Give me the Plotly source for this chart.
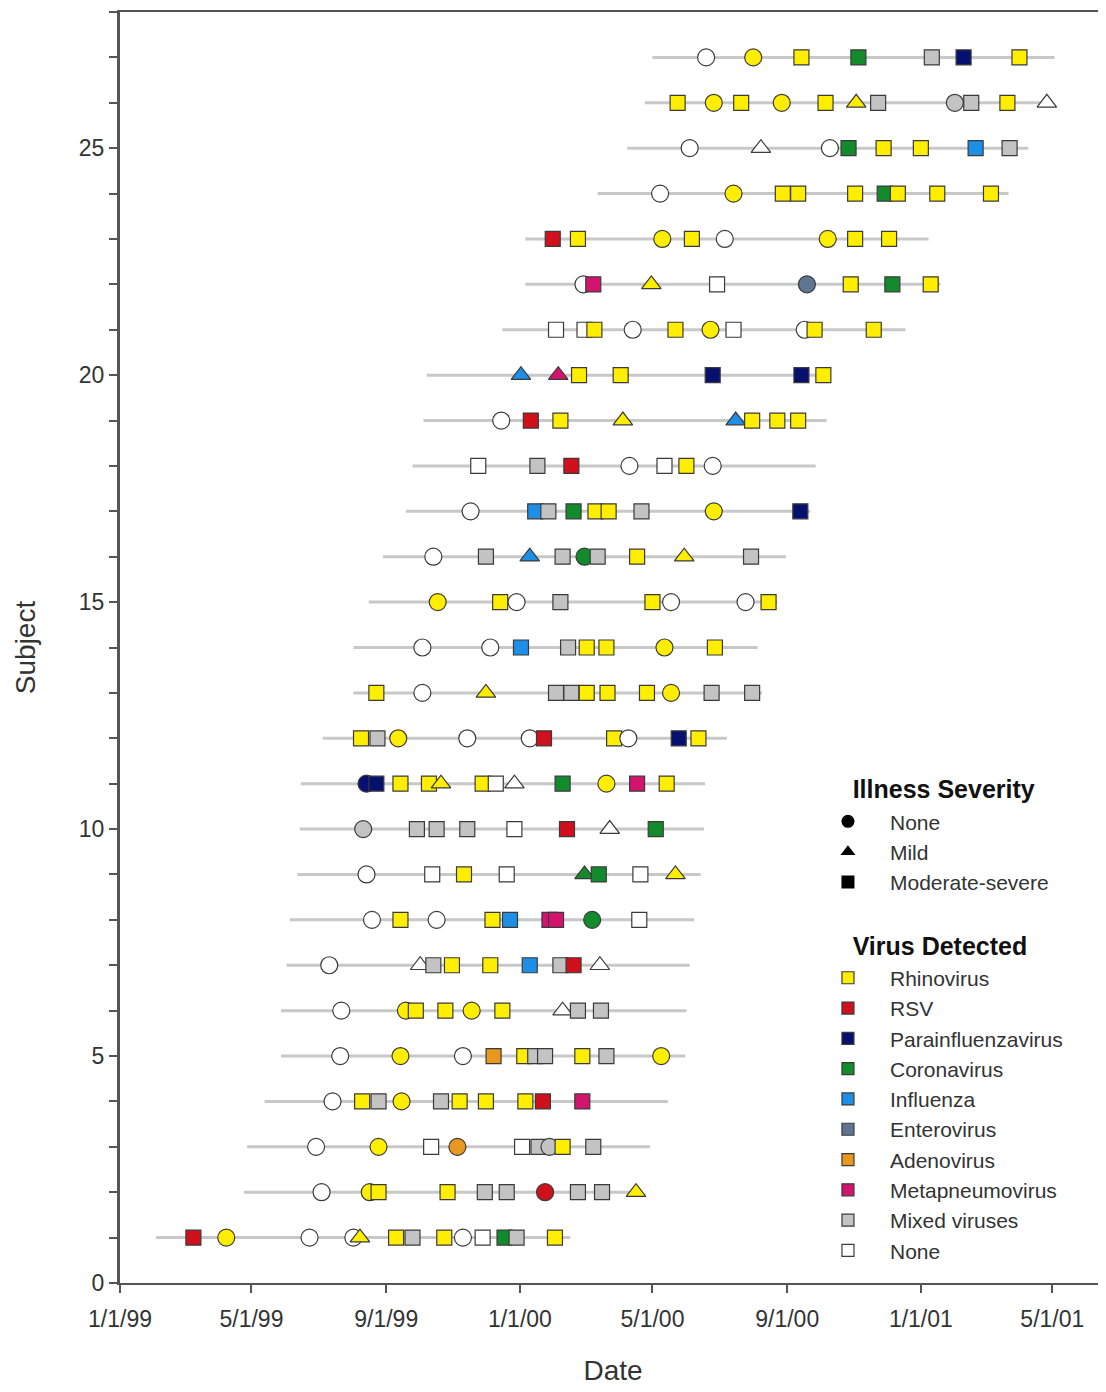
import plotly.graph_objects as go

# virus categories and their colours
virus_keys = ["RV", "RSV", "PIV", "CoV", "Flu", "EV", "AdV", "MPV", "MIX", "NEG"]
virus_names = ["Rhinovirus", "RSV", "Parainfluenzavirus", "Coronavirus", "Influenza",
               "Enterovirus", "Adenovirus", "Metapneumovirus", "Mixed viruses", "None"]
virus_colors = ["#FFEE00", "#D0101C", "#06106E", "#138A2C", "#1E8FE6",
                "#5F7592", "#E8981E", "#D3146F", "#C3C3C3", "#FFFFFF"]

# illness severity -> marker symbol
severity_keys = ["N", "M", "S"]
severity_names = ["None", "Mild", "Moderate-severe"]
severity_symbols = ["circle", "triangle-up", "square"]
severity_sizes = [17, 17, 15]

# follow-up period of each subject (subject 1 .. 27)
follow_start = ["1999-02-03", "1999-04-24", "1999-04-27", "1999-05-13", "1999-05-28",
                "1999-05-28", "1999-06-02", "1999-06-05", "1999-06-12", "1999-06-14",
                "1999-06-15", "1999-07-05", "1999-08-02", "1999-08-02", "1999-08-16",
                "1999-08-29", "1999-09-19", "1999-09-25", "1999-10-05", "1999-10-08",
                "1999-12-16", "2000-01-06", "2000-01-06", "2000-03-12", "2000-04-08",
                "2000-04-24", "2000-05-01"]
follow_end = ["2000-02-16", "2000-04-20", "2000-04-29", "2000-05-15", "2000-05-31",
              "2000-06-01", "2000-06-04", "2000-06-08", "2000-06-14", "2000-06-17",
              "2000-06-18", "2000-07-08", "2000-08-09", "2000-08-05", "2000-08-23",
              "2000-08-31", "2000-09-22", "2000-09-27", "2000-10-07", "2000-10-10",
              "2000-12-18", "2001-01-19", "2001-01-08", "2001-03-22", "2001-04-09",
              "2001-04-26", "2001-05-03"]

# sampling events per subject: (date, severity, virus)
s01 = [("1999-03-09", "S", "RSV"), ("1999-04-08", "N", "RV"), ("1999-06-23", "N", "NEG"),
       ("1999-08-02", "N", "NEG"), ("1999-08-08", "M", "RV"), ("1999-09-10", "S", "RV"),
       ("1999-09-25", "S", "MIX"), ("1999-10-24", "S", "RV"), ("1999-11-10", "N", "NEG"),
       ("1999-11-28", "S", "NEG"), ("1999-12-18", "S", "CoV"), ("1999-12-29", "S", "MIX"),
       ("2000-02-02", "S", "RV")]
s02 = [("1999-07-04", "N", "NEG"), ("1999-08-17", "N", "RV"), ("1999-08-25", "S", "RV"),
       ("1999-10-27", "S", "RV"), ("1999-11-30", "S", "MIX"), ("1999-12-20", "S", "MIX"),
       ("2000-01-24", "N", "RSV"), ("2000-02-23", "S", "MIX"), ("2000-03-16", "S", "MIX"),
       ("2000-04-16", "M", "RV")]
s03 = [("1999-06-29", "N", "NEG"), ("1999-08-25", "N", "RV"), ("1999-10-12", "S", "NEG"),
       ("1999-11-05", "N", "AdV"), ("2000-01-03", "S", "NEG"), ("2000-01-18", "S", "MIX"),
       ("2000-01-28", "N", "MIX"), ("2000-02-09", "S", "RV"), ("2000-03-08", "S", "MIX")]
s04 = [("1999-07-14", "N", "NEG"), ("1999-08-10", "S", "RV"), ("1999-08-25", "S", "MIX"),
       ("1999-09-15", "N", "RV"), ("1999-10-21", "S", "MIX"), ("1999-11-07", "S", "RV"),
       ("1999-12-01", "S", "RV"), ("2000-01-06", "S", "RV"), ("2000-01-22", "S", "RSV"),
       ("2000-02-27", "S", "MPV")]
s05 = [("1999-07-21", "N", "NEG"), ("1999-09-14", "N", "RV"), ("1999-11-10", "N", "NEG"),
       ("1999-12-08", "S", "AdV"), ("2000-01-05", "S", "RV"), ("2000-01-15", "S", "MIX"),
       ("2000-01-24", "S", "MIX"), ("2000-02-27", "S", "RV"), ("2000-03-20", "S", "MIX"),
       ("2000-05-09", "N", "RV")]
s06 = [("1999-07-22", "N", "NEG"), ("1999-09-19", "N", "RV"), ("1999-09-28", "S", "RV"),
       ("1999-10-25", "S", "RV"), ("1999-11-18", "N", "RV"), ("1999-12-16", "S", "RV"),
       ("2000-02-09", "M", "NEG"), ("2000-02-23", "S", "MIX"), ("2000-03-15", "S", "MIX")]
s07 = [("1999-07-11", "N", "NEG"), ("1999-10-02", "M", "NEG"), ("1999-10-14", "S", "MIX"),
       ("1999-10-31", "S", "RV"), ("1999-12-05", "S", "RV"), ("2000-01-10", "S", "Flu"),
       ("2000-02-07", "S", "MIX"), ("2000-02-19", "S", "RSV"), ("2000-03-14", "M", "NEG")]
s08 = [("1999-08-19", "N", "NEG"), ("1999-09-14", "S", "RV"), ("1999-10-17", "N", "NEG"),
       ("1999-12-07", "S", "RV"), ("1999-12-23", "S", "Flu"), ("2000-01-28", "S", "MPV"),
       ("2000-02-03", "S", "MPV"), ("2000-03-07", "N", "CoV"), ("2000-04-19", "S", "NEG")]
s09 = [("1999-08-14", "N", "NEG"), ("1999-10-13", "S", "NEG"), ("1999-11-11", "S", "RV"),
       ("1999-12-20", "S", "NEG"), ("2000-02-29", "M", "CoV"), ("2000-03-13", "S", "CoV"),
       ("2000-04-20", "S", "NEG"), ("2000-05-22", "M", "RV")]
s10 = [("1999-08-11", "N", "MIX"), ("1999-09-29", "S", "MIX"), ("1999-10-17", "S", "MIX"),
       ("1999-11-14", "S", "MIX"), ("1999-12-27", "S", "NEG"), ("2000-02-13", "S", "RSV"),
       ("2000-03-23", "M", "NEG"), ("2000-05-04", "S", "CoV")]
s11 = [("1999-08-14", "N", "PIV"), ("1999-08-23", "S", "PIV"), ("1999-09-14", "S", "RV"),
       ("1999-10-10", "S", "RV"), ("1999-10-21", "M", "RV"), ("1999-11-28", "S", "RV"),
       ("1999-12-10", "S", "NEG"), ("1999-12-27", "M", "NEG"), ("2000-02-09", "S", "CoV"),
       ("2000-03-20", "N", "RV"), ("2000-04-17", "S", "MPV"), ("2000-05-14", "S", "RV")]
s12 = [("1999-08-09", "S", "RV"), ("1999-08-24", "S", "MIX"), ("1999-09-12", "N", "RV"),
       ("1999-11-14", "N", "NEG"), ("2000-01-10", "N", "NEG"), ("2000-01-23", "S", "RSV"),
       ("2000-03-27", "S", "RV"), ("2000-04-09", "N", "NEG"), ("2000-05-25", "S", "PIV"),
       ("2000-06-12", "S", "RV")]
s13 = [("1999-08-23", "S", "RV"), ("1999-10-04", "N", "NEG"), ("1999-12-01", "M", "RV"),
       ("2000-02-03", "S", "MIX"), ("2000-02-17", "S", "MIX"), ("2000-03-02", "S", "RV"),
       ("2000-03-21", "S", "RV"), ("2000-04-26", "S", "RV"), ("2000-05-18", "N", "RV"),
       ("2000-06-24", "S", "MIX"), ("2000-07-31", "S", "MIX")]
s14 = [("1999-10-04", "N", "NEG"), ("1999-12-05", "N", "NEG"), ("2000-01-02", "S", "Flu"),
       ("2000-02-14", "S", "MIX"), ("2000-03-02", "S", "RV"), ("2000-03-20", "S", "RV"),
       ("2000-05-12", "N", "RV"), ("2000-06-27", "S", "RV")]
s15 = [("1999-10-18", "N", "RV"), ("1999-12-14", "S", "RV"), ("1999-12-29", "N", "NEG"),
       ("2000-02-07", "S", "MIX"), ("2000-05-01", "S", "RV"), ("2000-05-18", "N", "NEG"),
       ("2000-07-25", "N", "NEG"), ("2000-08-15", "S", "RV")]
s16 = [("1999-10-14", "N", "NEG"), ("1999-12-01", "S", "MIX"), ("2000-01-10", "M", "Flu"),
       ("2000-02-09", "S", "MIX"), ("2000-02-29", "N", "CoV"), ("2000-03-12", "S", "MIX"),
       ("2000-04-17", "S", "RV"), ("2000-05-30", "M", "RV"), ("2000-07-30", "S", "MIX")]
s17 = [("1999-11-17", "N", "NEG"), ("2000-01-15", "S", "Flu"), ("2000-01-27", "S", "MIX"),
       ("2000-02-19", "S", "CoV"), ("2000-03-10", "S", "RV"), ("2000-03-22", "S", "RV"),
       ("2000-04-21", "S", "MIX"), ("2000-06-26", "N", "RV"), ("2000-09-13", "S", "PIV")]
s18 = [("1999-11-24", "S", "NEG"), ("2000-01-17", "S", "MIX"), ("2000-02-17", "S", "RSV"),
       ("2000-04-10", "N", "NEG"), ("2000-05-12", "S", "NEG"), ("2000-06-01", "S", "RV"),
       ("2000-06-25", "N", "NEG")]
s19 = [("1999-12-15", "N", "NEG"), ("2000-01-11", "S", "RSV"), ("2000-02-07", "S", "RV"),
       ("2000-04-04", "M", "RV"), ("2000-07-16", "M", "Flu"), ("2000-07-31", "S", "RV"),
       ("2000-08-23", "S", "RV"), ("2000-09-11", "S", "RV")]
s20 = [("2000-01-02", "M", "Flu"), ("2000-02-05", "M", "MPV"), ("2000-02-24", "S", "RV"),
       ("2000-04-02", "S", "RV"), ("2000-06-25", "S", "PIV"), ("2000-09-14", "S", "PIV"),
       ("2000-10-04", "S", "RV")]
s21 = [("2000-02-03", "S", "NEG"), ("2000-02-29", "S", "NEG"), ("2000-03-09", "S", "RV"),
       ("2000-04-13", "N", "NEG"), ("2000-05-22", "S", "RV"), ("2000-06-23", "N", "RV"),
       ("2000-07-14", "S", "NEG"), ("2000-09-17", "N", "NEG"), ("2000-09-26", "S", "RV"),
       ("2000-11-19", "S", "RV")]
s22 = [("2000-02-28", "N", "NEG"), ("2000-03-08", "S", "MPV"), ("2000-04-30", "M", "RV"),
       ("2000-06-29", "S", "NEG"), ("2000-09-19", "N", "EV"), ("2000-10-29", "S", "RV"),
       ("2000-12-06", "S", "CoV"), ("2001-01-10", "S", "RV")]
s23 = [("2000-01-31", "S", "RSV"), ("2000-02-23", "S", "RV"), ("2000-05-10", "N", "RV"),
       ("2000-06-06", "S", "RV"), ("2000-07-06", "N", "NEG"), ("2000-10-08", "N", "RV"),
       ("2000-11-02", "S", "RV"), ("2000-12-03", "S", "RV")]
s24 = [("2000-05-08", "N", "NEG"), ("2000-07-14", "N", "RV"), ("2000-08-28", "S", "RV"),
       ("2000-09-11", "S", "RV"), ("2000-11-02", "S", "RV"), ("2000-11-29", "S", "CoV"),
       ("2000-12-11", "S", "RV"), ("2001-01-16", "S", "RV"), ("2001-03-06", "S", "RV")]
s25 = [("2000-06-04", "N", "NEG"), ("2000-08-08", "M", "NEG"), ("2000-10-10", "N", "NEG"),
       ("2000-10-27", "S", "CoV"), ("2000-11-28", "S", "RV"), ("2001-01-01", "S", "RV"),
       ("2001-02-20", "S", "Flu"), ("2001-03-23", "S", "MIX")]
s26 = [("2000-05-24", "S", "RV"), ("2000-06-26", "N", "RV"), ("2000-07-21", "S", "RV"),
       ("2000-08-27", "N", "RV"), ("2000-10-06", "S", "RV"), ("2000-11-03", "M", "RV"),
       ("2000-11-23", "S", "MIX"), ("2001-02-01", "N", "MIX"), ("2001-02-16", "S", "MIX"),
       ("2001-03-21", "S", "RV"), ("2001-04-26", "M", "NEG")]
s27 = [("2000-06-19", "N", "NEG"), ("2000-08-01", "N", "RV"), ("2000-09-14", "S", "RV"),
       ("2000-11-05", "S", "CoV"), ("2001-01-11", "S", "MIX"), ("2001-02-09", "S", "PIV"),
       ("2001-04-01", "S", "RV")]

subjects = [s01, s02, s03, s04, s05, s06, s07, s08, s09, s10, s11, s12, s13, s14,
            s15, s16, s17, s18, s19, s20, s21, s22, s23, s24, s25, s26, s27]

tick_dates = ["1999-01-01", "1999-05-01", "1999-09-01", "2000-01-01",
              "2000-05-01", "2000-09-01", "2001-01-01", "2001-05-01"]
tick_labels = ["1/1/99", "5/1/99", "9/1/99", "1/1/00", "5/1/00", "9/1/00", "1/1/01", "5/1/01"]

FONT = "Liberation Sans, Arial, sans-serif"
OUTLINE = "#3a3a3a"
PAD = "&nbsp;" * 6

fig = go.Figure()

# grey follow-up lines
lx, ly = [], []
for i, (a, b) in enumerate(zip(follow_start, follow_end), start=1):
    lx += [a, b, None]
    ly += [i, i, None]
fig.add_trace(go.Scatter(x=lx, y=ly, mode="lines", line=dict(color="#c8c8c8", width=3),
                         showlegend=False, hoverinfo="skip"))

# sample markers
col_of = dict(zip(virus_keys, virus_colors))
sym_of = dict(zip(severity_keys, severity_symbols))
size_of = dict(zip(severity_keys, severity_sizes))
xs, ys, syms, cols, sizes = [], [], [], [], []
for i, events in enumerate(subjects, start=1):
    for d, sev, vir in events:
        xs.append(d)
        ys.append(i)
        syms.append(sym_of[sev])
        cols.append(col_of[vir])
        sizes.append(size_of[sev])
fig.add_trace(go.Scatter(x=xs, y=ys, mode="markers", showlegend=False,
                         marker=dict(symbol=syms, color=cols, size=sizes, opacity=1,
                                     line=dict(color=OUTLINE, width=1.2))))

# legend entries
for name, sym in zip(severity_names, severity_symbols):
    fig.add_trace(go.Scatter(x=[None], y=[None], mode="markers", name=name,
                             legendgroup="sev",
                             legendgrouptitle_text=PAD + "<b>Illness Severity</b>",
                             marker=dict(symbol=sym, color="black", size=13)))
for name, c in zip(virus_names, virus_colors):
    fig.add_trace(go.Scatter(x=[None], y=[None], mode="markers", name=name,
                             legendgroup="vir",
                             legendgrouptitle_text=PAD + "<b>Virus Detected</b>",
                             marker=dict(symbol="square", color=c, size=12,
                                         line=dict(color=OUTLINE, width=1.2))))

fig.update_layout(
    width=1098, height=1384,
    margin=dict(l=112, r=0, t=4, b=109),
    plot_bgcolor="white", paper_bgcolor="white",
    font=dict(family=FONT, size=22, color="#333333"),
    legend=dict(x=0.6957, y=0.407, xanchor="left", yanchor="top",
                bgcolor="rgba(0,0,0,0)", tracegroupgap=30, itemwidth=74,
                font=dict(size=21, color="#333333"),
                grouptitlefont=dict(size=25, color="#111111")),
)
fig.update_xaxes(type="date", range=["1999-01-01", "2001-06-19"],
                 tickvals=tick_dates, ticktext=tick_labels,
                 showgrid=False, zeroline=False, automargin=False,
                 showline=True, linecolor="#555555", linewidth=2, mirror=True,
                 ticks="outside", ticklen=8, tickcolor="#555555", tickwidth=2,
                 ticklabelstandoff=6, tickfont=dict(size=23),
                 title=dict(text="Date", font=dict(size=28), standoff=30))
fig.update_yaxes(range=[0, 28], tickvals=[0, 5, 10, 15, 20, 25],
                 showgrid=False, zeroline=False, automargin=False,
                 showline=True, linecolor="#555555", linewidth=3,
                 ticks="outside", ticklen=8, tickcolor="#555555", tickwidth=2,
                 minor=dict(dtick=1, ticks="outside", ticklen=8, tickcolor="#555555", tickwidth=1.5),
                 tickfont=dict(size=23),
                 title=dict(text="Subject", font=dict(size=28), standoff=36))

fig.write_html("out.html")
